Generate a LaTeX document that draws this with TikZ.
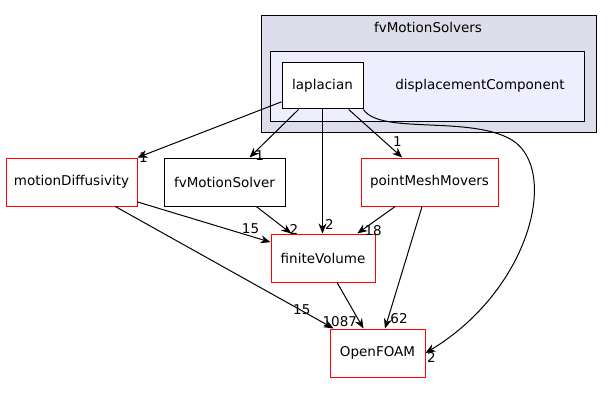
\documentclass[tikz,border=0pt]{standalone}
\usepackage{fontspec}
\setmainfont{DejaVu Sans}
\usetikzlibrary{arrows.meta}
\definecolor{outerfill}{HTML}{DDDDEB}
\definecolor{innerfill}{HTML}{EEEEFF}
\begin{document}
\begin{tikzpicture}[x=1pt,y=-1pt,font=\fontsize{13.5}{15}\selectfont, line width=1pt,
    dir/.style={draw=black, fill=white, minimum height=48pt, inner sep=0pt},
    reddir/.style={dir, draw=red},
    dep/.style={-{Stealth[length=10pt,width=8pt]}, black},
    num/.style={font=\fontsize{13.5}{15}\selectfont, inner sep=1pt}]

    \useasboundingbox (0,0) rectangle (611,404);

    % Cluster boxes
    \draw[fill=outerfill] (261,16) rectangle (596,132);
    \node (fvMS) at (428,27) {fvMotionSolvers};
    \draw[fill=innerfill] (270,52) rectangle (584,121);
    \node (dispC) at (480,86) {displacementComponent};

    % Directory nodes
    \node[dir, minimum width=81pt, minimum height=46pt] (lap) at (322.5,86) {laplacian};
    \node[reddir, minimum width=131pt] (mDiff) at (71.5,182) {motionDiffusivity};
    \node[dir, minimum width=121pt] (fvMSolver) at (224.5,182) {fvMotionSolver};
    \node[reddir, minimum width=137pt] (pMM) at (429.5,182) {pointMeshMovers};
    \node[reddir, minimum width=104pt] (fV) at (323,258) {finiteVolume};
    \node[reddir, minimum width=95pt] (oF) at (377.5,353) {OpenFOAM};

    % Dependencies
    \draw[dep] (lap) -- (mDiff.north east) node[num, anchor=west] {1};
    \draw[dep] (lap) -- (fvMSolver) node[num, pos=0.95, right=2pt] {1};
    \draw[dep] (lap) -- (fV.north -| lap) node[num, pos=0.93, right=1pt] {2};
    \draw[dep] (lap) -- (pMM) node[num, pos=0.8, above right=0pt] {1};
    \draw[dep] (lap.south east) .. controls (380,135) and (470,115) .. (512,140)
        .. controls (560,170) and (530,290) .. (oF.east) node[num, anchor=west, yshift=-4pt] {2};
    \draw[dep] (mDiff) -- (fV) node[num, pos=0.85, above=1pt] {15};
    \draw[dep] (mDiff) -- (oF) node[num, pos=0.9, above left=0pt] {15};
    \draw[dep] (fvMSolver) -- (fV) node[num, pos=0.85, right=2pt] {2};
    \draw[dep] (pMM) -- (fV) node[num, pos=0.9, right=2pt] {18};
    \draw[dep] (pMM) -- (oF) node[num, pos=0.92, right=1pt] {62};
    \draw[dep] (fV) -- (oF) node[num, pos=0.85, left=1pt] {1087};

\end{tikzpicture}
\end{document}
